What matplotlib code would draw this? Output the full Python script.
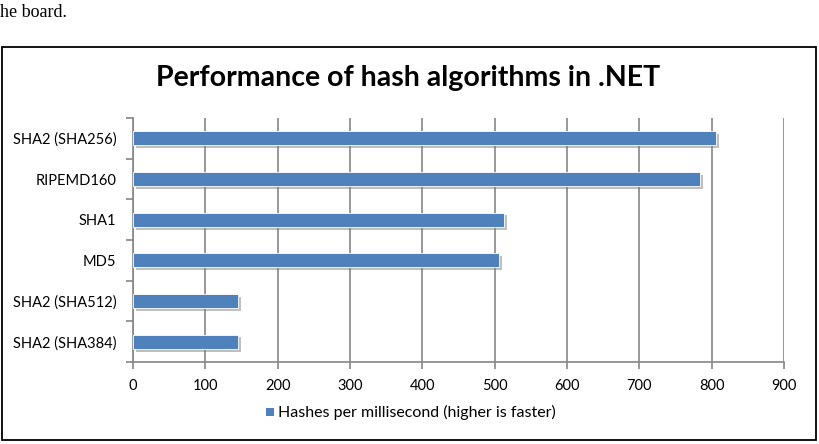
import matplotlib
matplotlib.use("Agg")
import matplotlib.pyplot as plt
import matplotlib.patheffects as pe
from matplotlib.patches import Rectangle
import numpy as np

categories = ["SHA2 (SHA384)", "SHA2 (SHA512)", "MD5", "SHA1", "RIPEMD160", "SHA2 (SHA256)"]
values = [145, 145, 506, 513, 784, 806]
xticks = [0, 100, 200, 300, 400, 500, 600, 700, 800, 900]
title = "Performance of hash algorithms in .NET"
legend_label = "Hashes per millisecond (higher is faster)"

W, H = 819, 444
fig = plt.figure(figsize=(W / 100, H / 100), dpi=100)
font = ["Lato", "DejaVu Sans"]

# surrounding document text
fig.text(0 / W, 1 - 17 / H, "he board.", family=["Liberation Serif"], fontsize=13,
         va="baseline", ha="left", color="black")

# chart border
fig.add_artist(Rectangle((2 / W, 1 - 440 / H), (816 - 2) / W, (440 - 47) / H,
                         transform=fig.transFigure, fill=False, edgecolor="black", lw=1.3))

left, right, top, bottom = 133 / W, 784 / W, 118 / H, 362 / H
ax = fig.add_axes([left, 1 - bottom, right - left, bottom - top])

y = np.arange(len(categories))
bars = ax.barh(y, values, height=0.35, color="#4F81BD", edgecolor="white", linewidth=0.6, zorder=3)
for b in bars:
    b.set_path_effects([pe.SimplePatchShadow(offset=(2, -2), shadow_rgbFace="#808080", alpha=0.5),
                        pe.Normal()])

ax.set_xlim(0, 900)
ax.set_ylim(-0.5, len(categories) - 0.5)

ax.set_xticks(xticks)
ax.set_xticklabels([str(t) for t in xticks], family=font, fontsize=10.5)
ax.tick_params(axis="x", direction="out", length=5, color="#868686", width=1.2, pad=7)
ax.xaxis.grid(True, color="#868686", lw=1.2, zorder=0)

ax.set_yticks(np.arange(-0.5, len(categories), 1.0))
ax.set_yticklabels([])
ax.set_yticks(y, minor=True)
ax.set_yticklabels(categories, minor=True, family=font, fontsize=10.5)
ax.tick_params(axis="y", which="major", direction="out", length=5, color="#868686", width=1.2)
ax.tick_params(axis="y", which="minor", length=0, pad=12)

for s in ["top", "right"]:
    ax.spines[s].set_visible(False)
for s in ["left", "bottom"]:
    ax.spines[s].set_color("#868686")
    ax.spines[s].set_linewidth(1.2)

fig.text(408 / W, 1 - 78 / H, title, family=font, fontsize=20.5, fontweight="bold",
         ha="center", va="center", color="black")

# legend
lx, ly = 266 / W, 1 - 412 / H
fig.add_artist(Rectangle((lx, ly - 4 / H), 8 / W, 8 / H, transform=fig.transFigure,
                         facecolor="#4F81BD", edgecolor="none"))
fig.text(lx + 12 / W, ly, legend_label, family=font, fontsize=11.5, va="center", ha="left")

fig.savefig("out.png", dpi=100)
